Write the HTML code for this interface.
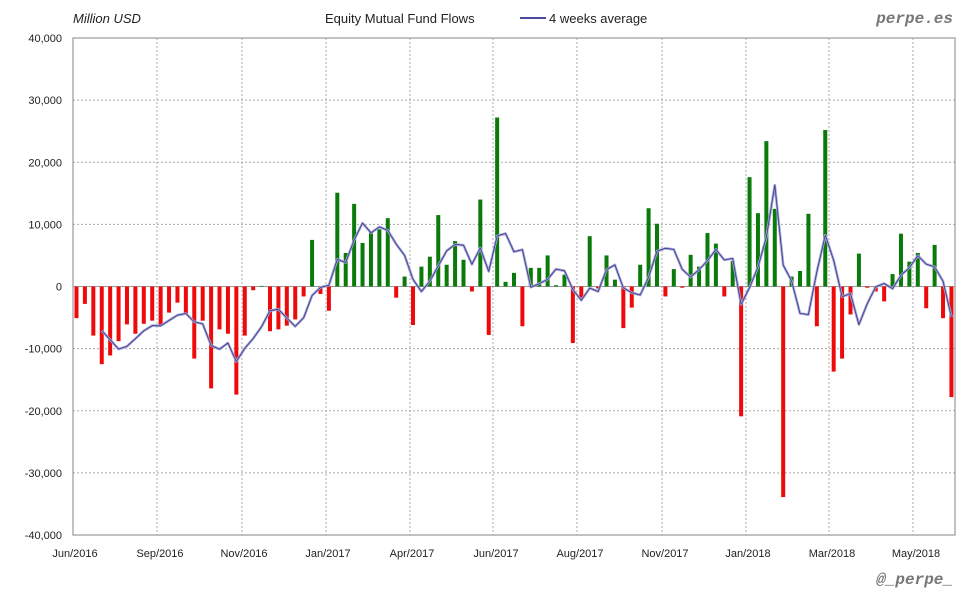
<!DOCTYPE html>
<html><head><meta charset="utf-8"><style>
html,body{margin:0;padding:0;background:#fff;}
svg{display:block;font-family:"Liberation Sans",sans-serif;}
</style></head><body>
<svg id="c" width="980" height="600" xmlns="http://www.w3.org/2000/svg">
<rect x="0" y="0" width="980" height="600" fill="#fff"/>
<text x="73" y="23" font-size="13" font-style="italic" fill="#222">Million USD</text>
<text x="325" y="23" font-size="13" fill="#222">Equity Mutual Fund Flows</text>
<line x1="520" y1="18" x2="546" y2="18" stroke="#4a4a9a" stroke-width="2"/>
<text x="549" y="23" font-size="13" fill="#222">4 weeks average</text>
<text x="953" y="23" font-size="16" font-weight="bold" font-style="italic" fill="#777" text-anchor="end" font-family="Liberation Mono,monospace">perpe.es</text>
<text x="953" y="584" font-size="16" font-weight="bold" font-style="italic" fill="#777" text-anchor="end" font-family="Liberation Mono,monospace">@_perpe_</text>
<g id="g"></g>
</svg>
<script>
var v=[-5.1,-2.8,-7.9,-12.5,-11.1,-8.8,-6.1,-7.6,-6.0,-5.5,-6.2,-4.2,-2.6,-4.4,-11.6,-5.5,-16.4,-6.9,-7.6,-17.4,-7.9,-0.6,0.1,-7.2,-6.9,-6.3,-5.3,-1.6,7.5,-1.2,-3.9,15.1,5.4,13.3,7.0,8.9,9.2,11.0,-1.8,1.6,-6.2,3.2,4.8,11.5,3.5,7.3,4.3,-0.8,14.0,-7.8,27.2,0.75,2.2,-6.4,3.0,3.0,5.0,0.2,1.9,-9.1,-1.9,8.1,-0.3,5.0,1.1,-6.7,-3.4,3.5,12.6,10.1,-1.6,2.8,-0.2,5.1,3.2,8.6,6.9,-1.6,4.1,-20.9,17.6,11.8,23.4,12.5,-33.9,1.6,2.5,11.7,-6.4,25.2,-13.7,-11.6,-4.5,5.3,-0.2,-0.8,-2.4,2.0,8.5,4.0,5.4,-3.5,6.7,-5.1,-17.8];
var L=73,R=955,T=38,B=535,Z=286.5,S=6.2125;
var s='';
var ys=[40,30,20,10,0,-10,-20,-30,-40];
ys.forEach(function(t){var y=Z-t*S;
 s+='<line x1="'+L+'" y1="'+y+'" x2="'+R+'" y2="'+y+'" stroke="#aaa" stroke-width="1" stroke-dasharray="2,2"/>';
 var lab=t==0?'0':(t<0?'-':'')+Math.abs(t)+',000';
 s+='<text x="62" y="'+(y+4)+'" font-size="11" text-anchor="end" fill="#222">'+lab+'</text>';});
var xs=[157,242,326,410,493,577,662,746,829,913];
xs.forEach(function(x){s+='<line x1="'+x+'" y1="'+T+'" x2="'+x+'" y2="'+B+'" stroke="#aaa" stroke-width="1" stroke-dasharray="2,2"/>';});
var labs=[[75,'Jun/2016'],[160,'Sep/2016'],[244,'Nov/2016'],[328,'Jan/2017'],[412,'Apr/2017'],[496,'Jun/2017'],[580,'Aug/2017'],[665,'Nov/2017'],[748,'Jan/2018'],[832,'Mar/2018'],[916,'May/2018']];
labs.forEach(function(a){s+='<text x="'+a[0]+'" y="557" font-size="11" text-anchor="middle" fill="#222">'+a[1]+'</text>';});
s+='<rect x="'+L+'" y="'+T+'" width="'+(R-L)+'" height="'+(B-T)+'" fill="none" stroke="#999" stroke-width="1.2"/>';
s+='<line x1="'+L+'" y1="'+Z+'" x2="'+R+'" y2="'+Z+'" stroke="#999" stroke-width="1"/>';
var x0=76.5,dx=8.413;
v.forEach(function(d,i){var x=x0+i*dx;var h=Math.abs(d)*S;var y=d>0?Z-h:Z;
 s+='<rect x="'+(x-2)+'" y="'+y+'" width="4" height="'+h+'" fill="'+(d>0?'#0a7a0a':'#ee0a0a')+'"/>';});
var p='';
for(var i=3;i<v.length;i++){var a=(v[i]+v[i-1]+v[i-2]+v[i-3])/4;p+=(i==3?'M':'L')+(x0+i*dx).toFixed(1)+','+(Z-a*S).toFixed(1);}
s+='<path d="'+p+'" fill="none" stroke="#a4a4d8" stroke-width="2.6" stroke-linejoin="round"/>';
s+='<path d="'+p+'" fill="none" stroke="#3a3a88" stroke-width="0.8" stroke-linejoin="round"/>';
document.getElementById('g').innerHTML=s;
</script>
</body></html>
